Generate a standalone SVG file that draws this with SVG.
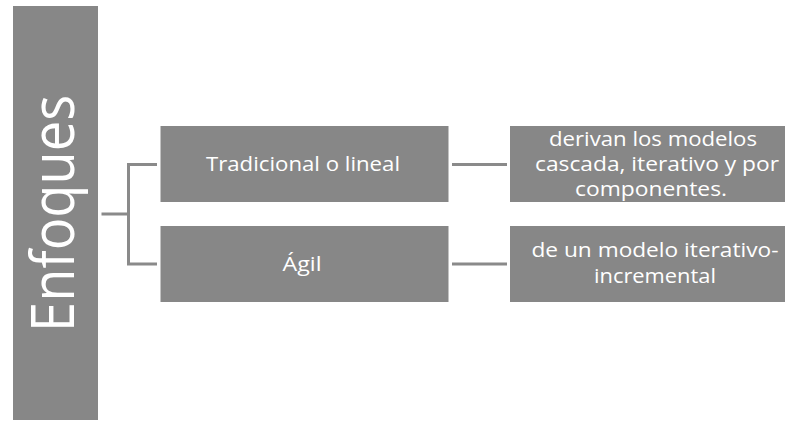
<svg xmlns="http://www.w3.org/2000/svg" width="787" height="423" viewBox="0 0 787 423">
  <style>
    .box { fill: #878787; }
    .lbl { fill: #ffffff; font-family: "Open Sans", "Liberation Sans", sans-serif; text-anchor: middle; }
    .mid { font-size: 20px; }
    .rt { font-size: 20px; }
    .conn { fill: none; stroke: #8a8a8a; stroke-width: 3; }
  </style>
  <rect width="787" height="423" fill="#ffffff"/>
  <g id="connectors">
    <path class="conn" d="M101.5 214 H128.5 M128.5 164.5 V264 M127 164.5 H157 M127 264 H157"/>
    <path class="conn" d="M452 164.5 H507"/>
    <path class="conn" d="M452 264 H507"/>
  </g>
  <g id="enfoques">
    <rect class="box" x="13" y="6" width="85" height="414"/>
    <text class="lbl" x="0" y="0" font-size="60" textLength="237" lengthAdjust="spacingAndGlyphs" transform="translate(74 213.5) rotate(-90)">Enfoques</text>
  </g>
  <g id="tradicional">
    <rect class="box" x="160.5" y="126" width="288" height="76"/>
    <text class="lbl mid" x="303" y="170.5" textLength="194" lengthAdjust="spacingAndGlyphs">Tradicional o lineal</text>
  </g>
  <g id="agil">
    <rect class="box" x="160.5" y="226" width="288" height="76"/>
    <text class="lbl mid" x="302" y="271" textLength="39" lengthAdjust="spacingAndGlyphs">Ágil</text>
  </g>
  <g id="tradicional-desc">
    <rect class="box" x="510" y="126" width="275" height="76"/>
    <text class="lbl rt" x="653" y="146" textLength="208" lengthAdjust="spacingAndGlyphs">derivan los modelos</text>
    <text class="lbl rt" x="657" y="171" textLength="244" lengthAdjust="spacingAndGlyphs">cascada, iterativo y por</text>
    <text class="lbl rt" x="651" y="196" textLength="152" lengthAdjust="spacingAndGlyphs">componentes.</text>
  </g>
  <g id="agil-desc">
    <rect class="box" x="510" y="226" width="275" height="76"/>
    <text class="lbl rt" x="655" y="257" textLength="247" lengthAdjust="spacingAndGlyphs">de un modelo iterativo-</text>
    <text class="lbl rt" x="655" y="283" textLength="122" lengthAdjust="spacingAndGlyphs">incremental</text>
  </g>
</svg>
